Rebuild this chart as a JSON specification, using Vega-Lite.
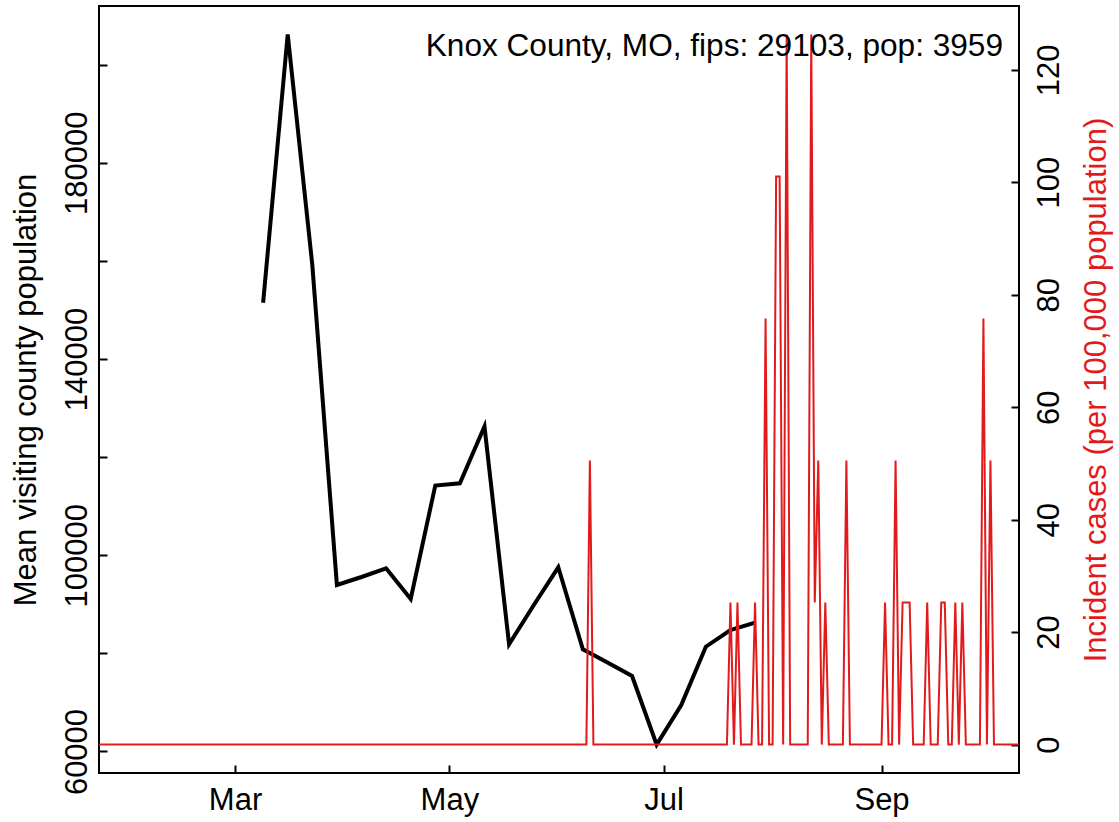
{
  "$schema": "https://vega.github.io/schema/vega-lite/v6.json",
  "width": 920,
  "height": 767,
  "autosize": {"type": "none"},
  "padding": {"left": 99, "top": 6, "right": 100, "bottom": 49},
  "background": "white",
  "config": {
    "view": {"stroke": "black", "strokeWidth": 2},
    "font": "Liberation Sans"
  },
  "title": {
    "text": "Knox County, MO, fips: 29103, pop: 3959",
    "anchor": "end",
    "frame": "group",
    "orient": "top",
    "offset": 0,
    "dx": -16,
    "dy": 81.7,
    "baseline": "alphabetic",
    "font": "Liberation Sans",
    "fontSize": 31.6,
    "fontWeight": "normal",
    "color": "black"
  },
  "datasets": {
    "mob": [
      {"d": "2020-03-09", "v": 151465},
      {"d": "2020-03-16", "v": 206145},
      {"d": "2020-03-23", "v": 159150},
      {"d": "2020-03-30", "v": 93933},
      {"d": "2020-04-06", "v": 95563},
      {"d": "2020-04-13", "v": 97336},
      {"d": "2020-04-20", "v": 91079},
      {"d": "2020-04-27", "v": 114211},
      {"d": "2020-05-04", "v": 114659},
      {"d": "2020-05-11", "v": 126235},
      {"d": "2020-05-18", "v": 81847},
      {"d": "2020-05-25", "v": 89796},
      {"d": "2020-06-01", "v": 97540},
      {"d": "2020-06-08", "v": 80828},
      {"d": "2020-06-15", "v": 78118},
      {"d": "2020-06-22", "v": 75387},
      {"d": "2020-06-29", "v": 61406},
      {"d": "2020-07-06", "v": 69477},
      {"d": "2020-07-13", "v": 81358},
      {"d": "2020-07-20", "v": 84762},
      {"d": "2020-07-27", "v": 86249}
    ],
    "cases": [
      {"d":"2020-01-22","v":0},{"d":"2020-01-23","v":0},{"d":"2020-01-24","v":0},{"d":"2020-01-25","v":0},{"d":"2020-01-26","v":0},{"d":"2020-01-27","v":0},{"d":"2020-01-28","v":0},{"d":"2020-01-29","v":0},{"d":"2020-01-30","v":0},{"d":"2020-01-31","v":0},
      {"d":"2020-02-01","v":0},{"d":"2020-02-02","v":0},{"d":"2020-02-03","v":0},{"d":"2020-02-04","v":0},{"d":"2020-02-05","v":0},{"d":"2020-02-06","v":0},{"d":"2020-02-07","v":0},{"d":"2020-02-08","v":0},{"d":"2020-02-09","v":0},{"d":"2020-02-10","v":0},
      {"d":"2020-02-11","v":0},{"d":"2020-02-12","v":0},{"d":"2020-02-13","v":0},{"d":"2020-02-14","v":0},{"d":"2020-02-15","v":0},{"d":"2020-02-16","v":0},{"d":"2020-02-17","v":0},{"d":"2020-02-18","v":0},{"d":"2020-02-19","v":0},{"d":"2020-02-20","v":0},
      {"d":"2020-02-21","v":0},{"d":"2020-02-22","v":0},{"d":"2020-02-23","v":0},{"d":"2020-02-24","v":0},{"d":"2020-02-25","v":0},{"d":"2020-02-26","v":0},{"d":"2020-02-27","v":0},{"d":"2020-02-28","v":0},{"d":"2020-02-29","v":0},
      {"d":"2020-03-01","v":0},{"d":"2020-03-02","v":0},{"d":"2020-03-03","v":0},{"d":"2020-03-04","v":0},{"d":"2020-03-05","v":0},{"d":"2020-03-06","v":0},{"d":"2020-03-07","v":0},{"d":"2020-03-08","v":0},{"d":"2020-03-09","v":0},{"d":"2020-03-10","v":0},
      {"d":"2020-03-11","v":0},{"d":"2020-03-12","v":0},{"d":"2020-03-13","v":0},{"d":"2020-03-14","v":0},{"d":"2020-03-15","v":0},{"d":"2020-03-16","v":0},{"d":"2020-03-17","v":0},{"d":"2020-03-18","v":0},{"d":"2020-03-19","v":0},{"d":"2020-03-20","v":0},
      {"d":"2020-03-21","v":0},{"d":"2020-03-22","v":0},{"d":"2020-03-23","v":0},{"d":"2020-03-24","v":0},{"d":"2020-03-25","v":0},{"d":"2020-03-26","v":0},{"d":"2020-03-27","v":0},{"d":"2020-03-28","v":0},{"d":"2020-03-29","v":0},{"d":"2020-03-30","v":0},{"d":"2020-03-31","v":0},
      {"d":"2020-04-01","v":0},{"d":"2020-04-02","v":0},{"d":"2020-04-03","v":0},{"d":"2020-04-04","v":0},{"d":"2020-04-05","v":0},{"d":"2020-04-06","v":0},{"d":"2020-04-07","v":0},{"d":"2020-04-08","v":0},{"d":"2020-04-09","v":0},{"d":"2020-04-10","v":0},
      {"d":"2020-04-11","v":0},{"d":"2020-04-12","v":0},{"d":"2020-04-13","v":0},{"d":"2020-04-14","v":0},{"d":"2020-04-15","v":0},{"d":"2020-04-16","v":0},{"d":"2020-04-17","v":0},{"d":"2020-04-18","v":0},{"d":"2020-04-19","v":0},{"d":"2020-04-20","v":0},
      {"d":"2020-04-21","v":0},{"d":"2020-04-22","v":0},{"d":"2020-04-23","v":0},{"d":"2020-04-24","v":0},{"d":"2020-04-25","v":0},{"d":"2020-04-26","v":0},{"d":"2020-04-27","v":0},{"d":"2020-04-28","v":0},{"d":"2020-04-29","v":0},{"d":"2020-04-30","v":0},
      {"d":"2020-05-01","v":0},{"d":"2020-05-02","v":0},{"d":"2020-05-03","v":0},{"d":"2020-05-04","v":0},{"d":"2020-05-05","v":0},{"d":"2020-05-06","v":0},{"d":"2020-05-07","v":0},{"d":"2020-05-08","v":0},{"d":"2020-05-09","v":0},{"d":"2020-05-10","v":0},
      {"d":"2020-05-11","v":0},{"d":"2020-05-12","v":0},{"d":"2020-05-13","v":0},{"d":"2020-05-14","v":0},{"d":"2020-05-15","v":0},{"d":"2020-05-16","v":0},{"d":"2020-05-17","v":0},{"d":"2020-05-18","v":0},{"d":"2020-05-19","v":0},{"d":"2020-05-20","v":0},
      {"d":"2020-05-21","v":0},{"d":"2020-05-22","v":0},{"d":"2020-05-23","v":0},{"d":"2020-05-24","v":0},{"d":"2020-05-25","v":0},{"d":"2020-05-26","v":0},{"d":"2020-05-27","v":0},{"d":"2020-05-28","v":0},{"d":"2020-05-29","v":0},{"d":"2020-05-30","v":0},{"d":"2020-05-31","v":0},
      {"d":"2020-06-01","v":0},{"d":"2020-06-02","v":0},{"d":"2020-06-03","v":0},{"d":"2020-06-04","v":0},{"d":"2020-06-05","v":0},{"d":"2020-06-06","v":0},{"d":"2020-06-07","v":0},{"d":"2020-06-08","v":0},{"d":"2020-06-09","v":0},{"d":"2020-06-10","v":50.52},
      {"d":"2020-06-11","v":0},{"d":"2020-06-12","v":0},{"d":"2020-06-13","v":0},{"d":"2020-06-14","v":0},{"d":"2020-06-15","v":0},{"d":"2020-06-16","v":0},{"d":"2020-06-17","v":0},{"d":"2020-06-18","v":0},{"d":"2020-06-19","v":0},{"d":"2020-06-20","v":0},
      {"d":"2020-06-21","v":0},{"d":"2020-06-22","v":0},{"d":"2020-06-23","v":0},{"d":"2020-06-24","v":0},{"d":"2020-06-25","v":0},{"d":"2020-06-26","v":0},{"d":"2020-06-27","v":0},{"d":"2020-06-28","v":0},{"d":"2020-06-29","v":0},{"d":"2020-06-30","v":0},
      {"d":"2020-07-01","v":0},{"d":"2020-07-02","v":0},{"d":"2020-07-03","v":0},{"d":"2020-07-04","v":0},{"d":"2020-07-05","v":0},{"d":"2020-07-06","v":0},{"d":"2020-07-07","v":0},{"d":"2020-07-08","v":0},{"d":"2020-07-09","v":0},{"d":"2020-07-10","v":0},
      {"d":"2020-07-11","v":0},{"d":"2020-07-12","v":0},{"d":"2020-07-13","v":0},{"d":"2020-07-14","v":0},{"d":"2020-07-15","v":0},{"d":"2020-07-16","v":0},{"d":"2020-07-17","v":0},{"d":"2020-07-18","v":0},{"d":"2020-07-19","v":0},{"d":"2020-07-20","v":25.26},
      {"d":"2020-07-21","v":0},{"d":"2020-07-22","v":25.26},{"d":"2020-07-23","v":0},{"d":"2020-07-24","v":0},{"d":"2020-07-25","v":0},{"d":"2020-07-26","v":0},{"d":"2020-07-27","v":25.26},{"d":"2020-07-28","v":0},{"d":"2020-07-29","v":0},{"d":"2020-07-30","v":75.78},{"d":"2020-07-31","v":0},
      {"d":"2020-08-01","v":0},{"d":"2020-08-02","v":101.04},{"d":"2020-08-03","v":101.04},{"d":"2020-08-04","v":0},{"d":"2020-08-05","v":126.29},{"d":"2020-08-06","v":0},{"d":"2020-08-07","v":0},{"d":"2020-08-08","v":0},{"d":"2020-08-09","v":0},{"d":"2020-08-10","v":0},
      {"d":"2020-08-11","v":0},{"d":"2020-08-12","v":126.29},{"d":"2020-08-13","v":25.26},{"d":"2020-08-14","v":50.52},{"d":"2020-08-15","v":0},{"d":"2020-08-16","v":25.26},{"d":"2020-08-17","v":0},{"d":"2020-08-18","v":0},{"d":"2020-08-19","v":0},{"d":"2020-08-20","v":0},
      {"d":"2020-08-21","v":0},{"d":"2020-08-22","v":50.52},{"d":"2020-08-23","v":0},{"d":"2020-08-24","v":0},{"d":"2020-08-25","v":0},{"d":"2020-08-26","v":0},{"d":"2020-08-27","v":0},{"d":"2020-08-28","v":0},{"d":"2020-08-29","v":0},{"d":"2020-08-30","v":0},{"d":"2020-08-31","v":0},
      {"d":"2020-09-01","v":0},{"d":"2020-09-02","v":25.26},{"d":"2020-09-03","v":0},{"d":"2020-09-04","v":0},{"d":"2020-09-05","v":50.52},{"d":"2020-09-06","v":0},{"d":"2020-09-07","v":25.26},{"d":"2020-09-08","v":25.26},{"d":"2020-09-09","v":25.26},{"d":"2020-09-10","v":0},
      {"d":"2020-09-11","v":0},{"d":"2020-09-12","v":0},{"d":"2020-09-13","v":0},{"d":"2020-09-14","v":25.26},{"d":"2020-09-15","v":0},{"d":"2020-09-16","v":0},{"d":"2020-09-17","v":0},{"d":"2020-09-18","v":25.26},{"d":"2020-09-19","v":25.26},{"d":"2020-09-20","v":0},
      {"d":"2020-09-21","v":0},{"d":"2020-09-22","v":25.26},{"d":"2020-09-23","v":0},{"d":"2020-09-24","v":25.26},{"d":"2020-09-25","v":0},{"d":"2020-09-26","v":0},{"d":"2020-09-27","v":0},{"d":"2020-09-28","v":0},{"d":"2020-09-29","v":0},{"d":"2020-09-30","v":75.78},
      {"d":"2020-10-01","v":0},{"d":"2020-10-02","v":50.52},{"d":"2020-10-03","v":0},{"d":"2020-10-04","v":0},{"d":"2020-10-05","v":0},{"d":"2020-10-06","v":0},{"d":"2020-10-07","v":0},{"d":"2020-10-08","v":0},{"d":"2020-10-09","v":0},{"d":"2020-10-10","v":0}
    ]
  },
  "layer": [
    {
      "data": {"name": "mob"},
      "mark": {"type": "line", "color": "black", "strokeWidth": 4, "clip": true, "strokeJoin": "miter"},
      "encoding": {
        "x": {
          "field": "d", "type": "temporal",
          "scale": {"type": "utc", "domain": [1579676400000, 1602298800000], "nice": false},
          "axis": {
            "orient": "bottom",
            "values": [1583020800000, 1588291200000, 1593561600000, 1598918400000],
            "labelExpr": "utcFormat(datum.value, '%b')",
            "labelAngle": 0, "labelAlign": "center", "labelBaseline": "alphabetic",
            "labelPadding": 44.5, "labelFontSize": 31, "labelFont": "Liberation Sans", "labelColor": "black",
            "labelFlush": false, "labelOverlap": false,
            "tickSize": -8, "tickWidth": 2, "tickColor": "black",
            "domain": false, "grid": false, "title": null
          }
        },
        "y": {
          "field": "v", "type": "quantitative",
          "scale": {"domain": [55618, 211933], "nice": false, "zero": false},
          "axis": {
            "orient": "left",
            "values": [60000, 80000, 100000, 120000, 140000, 160000, 180000, 200000],
            "format": "d",
            "labelExpr": "datum.value % 40000 == 20000 ? datum.label : ''",
            "labelAngle": -90, "labelAlign": "center", "labelBaseline": "alphabetic",
            "labelPadding": 21, "labelFontSize": 31, "labelFont": "Liberation Sans", "labelColor": "black",
            "labelFlush": false, "labelOverlap": false,
            "tickSize": -8, "tickWidth": 2, "tickColor": "black",
            "domain": false, "grid": false,
            "title": "Mean visiting county population",
            "titleFont": "Liberation Sans", "titleFontSize": 31, "titleFontWeight": "normal", "titleColor": "black",
            "titleAngle": -90, "titleAlign": "center", "titleBaseline": "alphabetic",
            "titleX": -64, "titleY": 383.5
          }
        }
      }
    },
    {
      "data": {"name": "cases"},
      "mark": {"type": "line", "color": "#E31A1C", "strokeWidth": 2, "clip": true},
      "encoding": {
        "x": {"field": "d", "type": "temporal"},
        "y": {
          "field": "v", "type": "quantitative",
          "scale": {"domain": [-5.05, 131.34], "nice": false, "zero": false},
          "axis": {
            "orient": "right",
            "values": [0, 20, 40, 60, 80, 100, 120],
            "format": "d",
            "labelAngle": -90, "labelAlign": "center", "labelBaseline": "alphabetic",
            "labelPadding": 47.7, "labelFontSize": 31, "labelFont": "Liberation Sans", "labelColor": "black",
            "labelFlush": false, "labelOverlap": false,
            "tickSize": -8, "tickWidth": 2, "tickColor": "black",
            "domain": false, "grid": false,
            "title": "Incident cases (per 100,000 population)",
            "titleFont": "Liberation Sans", "titleFontSize": 31, "titleFontWeight": "normal", "titleColor": "#E31A1C",
            "titleAngle": -90, "titleAlign": "center", "titleBaseline": "alphabetic",
            "titleX": 86, "titleY": 383.5
          }
        }
      }
    }
  ],
  "resolve": {"scale": {"y": "independent"}}
}
